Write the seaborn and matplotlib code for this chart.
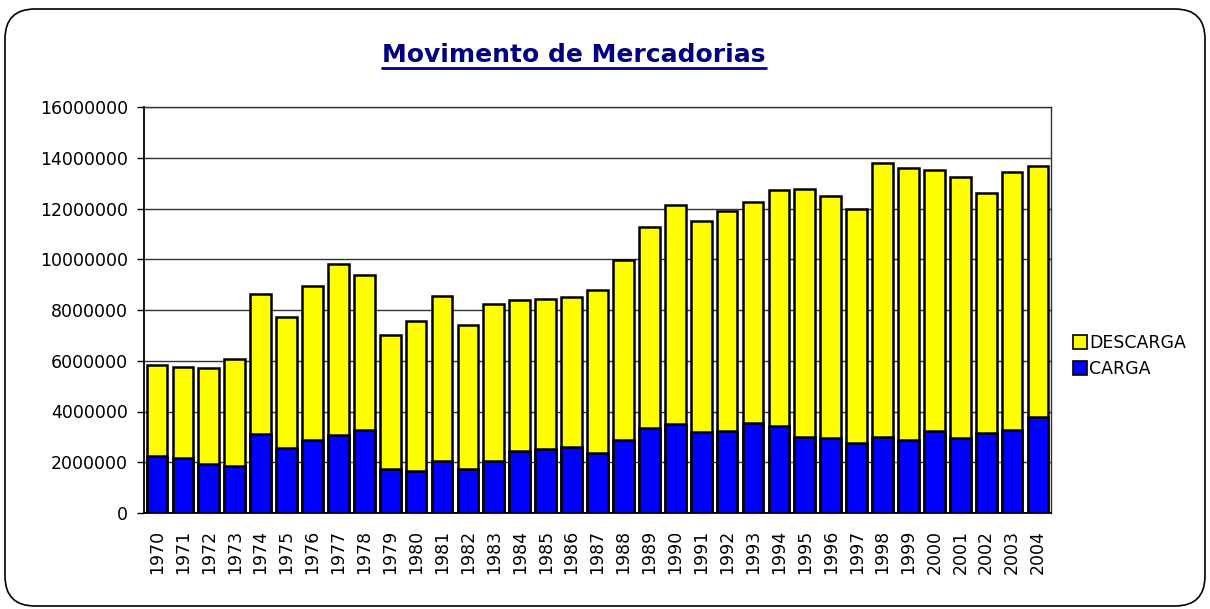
import numpy as np
import pandas as pd
import matplotlib
matplotlib.use("Agg")
from matplotlib import pyplot as plt
from matplotlib.patches import FancyBboxPatch, Patch
from matplotlib.lines import Line2D
import seaborn as sns

# values
years = list(range(1970, 2005))
total = [5830000, 5770000, 5700000, 6060000, 8620000, 7710000, 8960000, 9830000, 9390000,
         7010000, 7570000, 8560000, 7410000, 8220000, 8410000, 8450000, 8500000, 8790000,
         9960000, 11260000, 12130000, 11520000, 11910000, 12260000, 12730000, 12770000,
         12480000, 11990000, 13780000, 13610000, 13530000, 13240000, 12610000, 13450000,
         13690000]
carga = [2250000, 2150000, 1930000, 1850000, 3110000, 2570000, 2860000, 3060000, 3270000,
         1730000, 1670000, 2060000, 1730000, 2050000, 2440000, 2520000, 2590000, 2350000,
         2880000, 3360000, 3490000, 3190000, 3230000, 3530000, 3420000, 3010000, 2940000,
         2750000, 2980000, 2880000, 3240000, 2940000, 3140000, 3260000, 3800000]
descarga = [t - c for t, c in zip(total, carga)]

df = pd.DataFrame({"ano": [str(y) for y in years], "CARGA": carga,
                   "DESCARGA": descarga, "total": total})

sns.set_theme(style="white")
plt.rcParams["font.family"] = ["DejaVu Sans"]
plt.rcParams["text.color"] = "black"
plt.rcParams["xtick.color"] = "black"
plt.rcParams["ytick.color"] = "black"

fig = plt.figure(figsize=(12.1, 6.09), dpi=100)
ax = fig.add_axes([144 / 1210, 96 / 609, 907 / 1210, 406 / 609])

# stacked bars: total (yellow) behind, carga (blue) in front
sns.barplot(data=df, x="ano", y="total", color="#FFFF00", saturation=1, width=0.8,
            edgecolor="black", linewidth=1.8, ax=ax, zorder=3)
sns.barplot(data=df, x="ano", y="CARGA", color="#0000FF", saturation=1, width=0.8,
            edgecolor="black", linewidth=1.8, ax=ax, zorder=4)

ax.set_xlim(-0.5, len(years) - 0.5)
ax.set_ylim(0, 16000000)
ax.set_yticks(np.arange(0, 16000001, 2000000))
ax.set_yticklabels([str(v) for v in range(0, 16000001, 2000000)])
ax.set_xlabel("")
ax.set_ylabel("")
ax.tick_params(axis="x", which="major", length=0, rotation=90, labelsize=12.5, pad=12,
               labelcolor="black")
ax.set_xticks(np.arange(-0.5, len(years), 1), minor=True)
ax.tick_params(axis="x", which="minor", length=5, width=1, color="black", direction="out")
ax.tick_params(axis="y", length=5, width=1, color="black", direction="out", labelsize=12.5,
               left=True, pad=6.5, labelcolor="black")
ax.yaxis.grid(True, color="#333333", linewidth=1)
ax.set_axisbelow(True)
for s in ["left", "bottom"]:
    ax.spines[s].set_color("black")
    ax.spines[s].set_linewidth(1.3)
for s in ["top", "right"]:
    ax.spines[s].set_color("#333333")
    ax.spines[s].set_linewidth(1)

handles = [Patch(facecolor="#FFFF00", edgecolor="black", linewidth=1.2, label="DESCARGA"),
           Patch(facecolor="#0000FF", edgecolor="black", linewidth=1.2, label="CARGA")]
leg = fig.legend(handles=handles, loc="center left", bbox_to_anchor=(1064 / 1210, 1 - 356 / 609),
                 frameon=False, fontsize=12.5, handlelength=0.8, handleheight=0.8,
                 handletextpad=0.15, labelspacing=0.45, borderpad=0)
for t in leg.get_texts():
    t.set_color("black")

# title with underline
title = fig.text(574 / 1210, 1 - 55 / 609, "Movimento de Mercadorias", ha="center",
                 va="center", fontsize=18, fontweight="bold", color="#000080")
fig.canvas.draw()
bb = title.get_window_extent(fig.canvas.get_renderer())
uy = (bb.y0 - 1) / 609
fig.add_artist(Line2D([bb.x0 / 1210, bb.x1 / 1210], [uy, uy], color="#000080",
                      linewidth=2, transform=fig.transFigure))

# rounded frame around the whole chart
frame = FancyBboxPatch((0.05, 0.03), 12.0, 5.97, boxstyle="round,pad=0,rounding_size=0.3",
                       transform=fig.dpi_scale_trans, facecolor="none", edgecolor="black",
                       linewidth=1.2)
fig.add_artist(frame)

fig.savefig("out.png", dpi=100)
